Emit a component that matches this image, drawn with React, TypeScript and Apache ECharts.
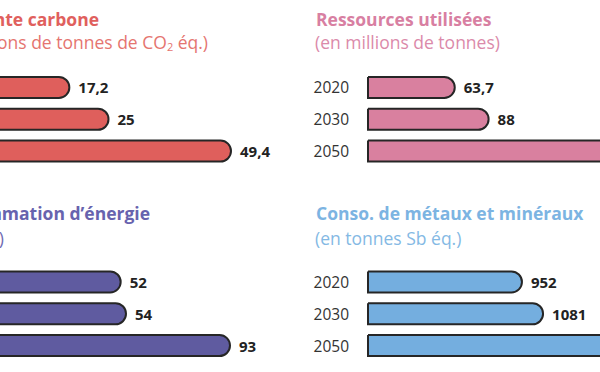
import React, { useEffect, useRef } from "react";
import * as echarts from "echarts";

const years = ["2020", "2030", "2050"];
const carbonValues = [17.2, 25, 49.4];
const resourceValues = [63.7, 88, 178];
const energyValues = [52, 54, 93];
const metalValues = [952, 1081, 1514];

const titles = {
  carbon: ["Empreinte carbone", "(en millions de tonnes de CO{sub|2} éq.)"],
  resource: ["Ressources utilisées", "(en millions de tonnes)"],
  energy: ["Consommation d’énergie", "(en TWh)"],
  metal: ["Conso. de métaux et minéraux", "(en tonnes Sb éq.)"],
};

const OX = 100; // inner chart offset (chart is wider than the window and shifted left)
const FONT = "'Open Sans', 'Noto Sans', sans-serif";

const panels = [
  { key: "carbon", values: carbonValues, color: "#DF5F5C", left: -16, top: 71.6 },
  { key: "resource", values: resourceValues, color: "#D9809F", left: 367, top: 71.6 },
  { key: "energy", values: energyValues, color: "#5F5BA0", left: -17, top: 266.1 },
  { key: "metal", values: metalValues, color: "#74AEDF", left: 367, top: 266.1 },
];

const fmt = (v: number) => String(v).replace(".", ",");

export default function App() {
  const ref = useRef<HTMLDivElement>(null);
  useEffect(() => {
    if (!ref.current) return;
    const chart = echarts.init(ref.current, undefined, { renderer: "svg" });
    const grid: any[] = [];
    const xAxis: any[] = [];
    const yAxis: any[] = [];
    const series: any[] = [];
    panels.forEach((p, i) => {
      grid.push({ left: p.left + OX, top: p.top, width: 248, height: 95.3 });
      xAxis.push({ gridIndex: i, type: "value", min: 0, max: p.values[2], show: false });
      yAxis.push({
        gridIndex: i,
        type: "category",
        data: years,
        inverse: true,
        axisLine: { show: false },
        axisTick: { show: false },
        splitLine: { show: false },
        axisLabel: { color: "#333333", fontSize: 15.5, fontFamily: FONT, margin: 18 },
      });
      series.push({
        type: "bar",
        xAxisIndex: i,
        yAxisIndex: i,
        data: p.values,
        barWidth: 23,
        itemStyle: {
          color: p.color,
          borderColor: "#262626",
          borderWidth: 2,
          borderRadius: [0, 12, 12, 0],
        },
        label: {
          show: true,
          position: "right",
          distance: 8,
          color: "#222222",
          fontSize: 15,
          fontWeight: "bold",
          fontFamily: FONT,
          formatter: (d: any) => fmt(d.value),
        },
      });
    });

    const titleText = (x: number, y: number, text: string, color: string, bold: boolean, align: string) => ({
      type: "text",
      x: x + OX,
      y,
      style: {
        text,
        fill: color,
        font: `${bold ? "bold " : ""}17.5px ${FONT}`,
        textAlign: align,
        textVerticalAlign: "middle",
        rich: {
          sub: { fontSize: 11, fill: color, padding: [8, 0, 0, 0], fontFamily: FONT },
        },
      },
    });

    const graphic = [
      titleText(99, 19, titles.carbon[0], "#E0605D", true, "right"),
      titleText(208, 42, titles.carbon[1], "#E57570", false, "right"),
      titleText(316, 19, titles.resource[0], "#D87FA2", true, "left"),
      titleText(315, 42, titles.resource[1], "#DB8AAA", false, "left"),
      titleText(150, 213, titles.energy[0], "#6763AE", true, "right"),
      titleText(4, 237.5, titles.energy[1], "#6F6BB3", false, "right"),
      titleText(316, 213, titles.metal[0], "#7CB4E2", true, "left"),
      titleText(315, 237.5, titles.metal[1], "#84B9E4", false, "left"),
    ];

    chart.setOption({
      animation: false,
      backgroundColor: "#ffffff",
      grid,
      xAxis,
      yAxis,
      series,
      graphic,
    });
    return () => chart.dispose();
  }, []);

  return (
    <div style={{ position: "fixed", left: 0, top: 0, width: 600, height: 372, overflow: "hidden", background: "#fff" }}>
      <div ref={ref} style={{ position: "absolute", left: -OX, top: 0, width: 800, height: 372 }} />
    </div>
  );
}
